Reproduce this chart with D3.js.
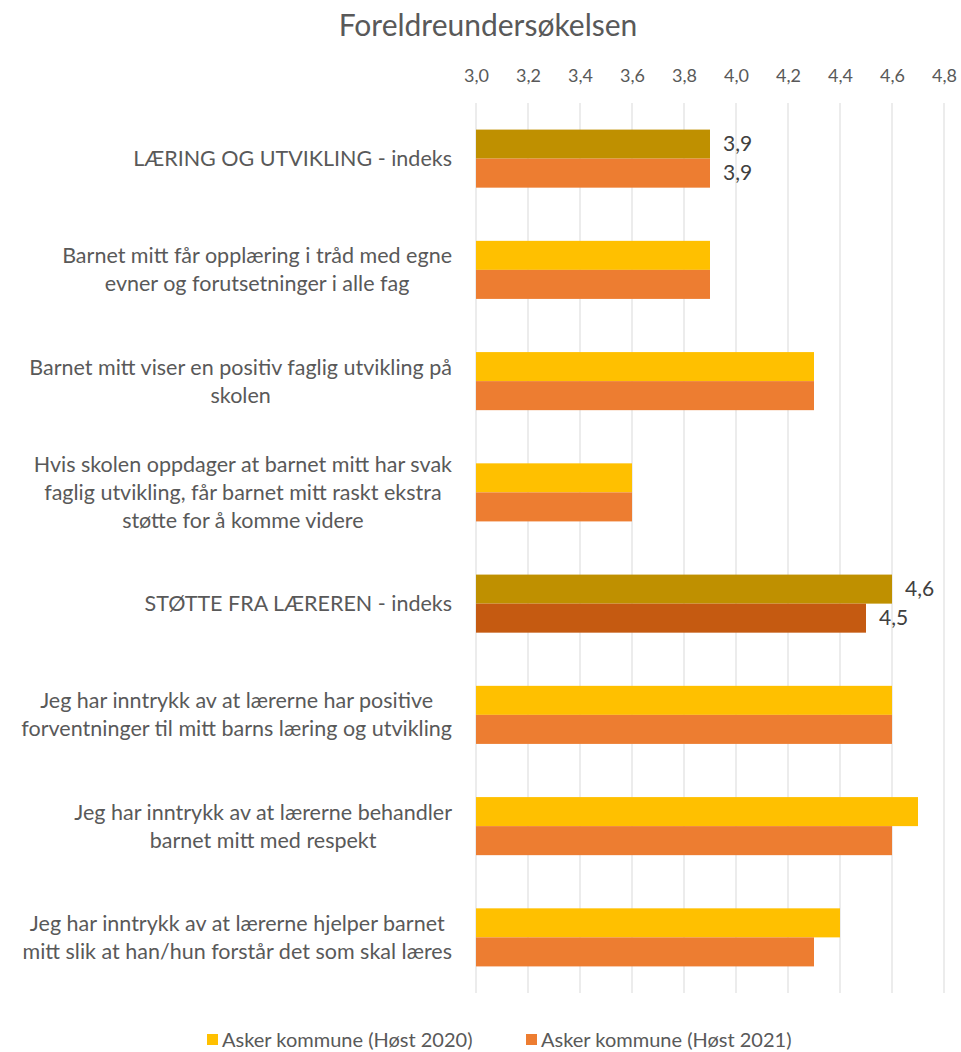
<!DOCTYPE html>
<html><head><meta charset="utf-8">
<script src="https://cdn.jsdelivr.net/npm/d3@7"></script>
<style>body{margin:0;background:#fff;} text{font-family:Lato,"Open Sans",sans-serif;}</style>
</head><body>
<svg id="chart" width="961" height="1052"></svg>
<script>
const categories = [
  ["LÆRING OG UTVIKLING - indeks"],
  ["Barnet mitt får opplæring i tråd med egne", "evner og forutsetninger i alle fag"],
  ["Barnet mitt viser en positiv faglig utvikling på", "skolen"],
  ["Hvis skolen oppdager at barnet mitt har svak", "faglig utvikling, får barnet mitt raskt ekstra", "støtte for å komme videre"],
  ["STØTTE FRA LÆREREN - indeks"],
  ["Jeg har inntrykk av at lærerne har positive", "forventninger til mitt barns læring og utvikling"],
  ["Jeg har inntrykk av at lærerne behandler", "barnet mitt med respekt"],
  ["Jeg har inntrykk av at lærerne hjelper barnet", "mitt slik at han/hun forstår det som skal læres"]
];
const seriesNames = ["Asker kommune (Høst 2020)", "Asker kommune (Høst 2021)"];
const values2020 = [3.9, 3.9, 4.3, 3.6, 4.6, 4.6, 4.7, 4.4];
const values2021 = [3.9, 3.9, 4.3, 3.6, 4.5, 4.6, 4.6, 4.3];
const indexRows = [0, 4];
const xTicks = [3.0, 3.2, 3.4, 3.6, 3.8, 4.0, 4.2, 4.4, 4.6, 4.8];
const chartTitle = "Foreldreundersøkelsen";

(function() {
const colors = ["#FFC000", "#ED7D31"];
const idxColors = [["#BF9000", "#ED7D31"], ["#BF9000", "#C55A11"]];
const txt = "#595959";

const svg = d3.select("#chart");
const pL = 476, pR = 944, pT = 103, pB = 993;
const x = d3.scaleLinear().domain([3.0, 4.8]).range([pL, pR]);
const y = d3.scaleBand().domain(d3.range(categories.length)).range([pT, pB]).paddingInner(0.478).paddingOuter(0.239);
const sub = d3.scaleBand().domain([0, 1]).range([0, y.bandwidth()]);

svg.append("text").attr("x", 488).attr("y", 25).attr("dy", "0.35em").attr("text-anchor", "middle")
  .attr("font-size", 30).attr("fill", txt).text(chartTitle);

svg.append("g").selectAll("line").data(xTicks).join("line")
  .attr("x1", d => x(d)).attr("x2", d => x(d)).attr("y1", pT).attr("y2", pB)
  .attr("stroke", "#D9D9D9").attr("stroke-width", 1);

const xAxis = d3.axisTop(x).tickValues(xTicks).tickSize(0).tickPadding(0)
  .tickFormat(d => d3.format(".1f")(d).replace(".", ","));
const ax = svg.append("g").attr("transform", `translate(0,82)`).call(xAxis);
ax.select(".domain").remove();
ax.selectAll("text").attr("font-size", 18).attr("fill", txt).attr("font-family", "Lato");

const data = categories.map((c, i) => ({i, vals: [values2020[i], values2021[i]]}));
const groups = svg.append("g").selectAll("g").data(data).join("g")
  .attr("transform", d => `translate(0,${y(d.i)})`);
groups.selectAll("rect").data(d => d.vals.map((v, s) => ({i: d.i, s, v}))).join("rect")
  .attr("x", x(3.0)).attr("y", d => sub(d.s)).attr("height", sub.bandwidth())
  .attr("width", d => x(d.v) - x(3.0))
  .attr("fill", d => {
    const k = indexRows.indexOf(d.i);
    return k >= 0 ? idxColors[k][d.s] : colors[d.s];
  });

groups.filter(d => indexRows.includes(d.i)).selectAll("text.dl")
  .data(d => d.vals.map((v, s) => ({s, v}))).join("text").attr("class", "dl")
  .attr("x", d => x(d.v) + 13).attr("y", d => sub(d.s) + sub.bandwidth() / 2)
  .attr("dy", "0.35em").attr("font-size", 21).attr("fill", "#404040")
  .text(d => d3.format(".1f")(d.v).replace(".", ","));

const lh = 28;
const labG = svg.append("g");
categories.forEach((lines, i) => {
  const cy = y(i) + y.bandwidth() / 2;
  const t = labG.append("text").attr("text-anchor", "middle").attr("font-size", 21.5).attr("fill", txt);
  lines.forEach((ln, j) => {
    t.append("tspan").attr("x", 237).attr("y", cy + (j - (lines.length - 1) / 2) * lh).attr("dy", "0.35em").text(ln);
  });
});
labG.selectAll("text").each(function() {
  const sel = d3.select(this);
  let maxW = 0;
  sel.selectAll("tspan").each(function() { maxW = Math.max(maxW, this.getComputedTextLength()); });
  sel.selectAll("tspan").attr("x", 452 - maxW / 2);
});

const leg = svg.append("g");
const legX = [207, 526];
seriesNames.forEach((n, s) => {
  leg.append("rect").attr("x", legX[s]).attr("y", 1034).attr("width", 11).attr("height", 11).attr("fill", colors[s]);
  leg.append("text").attr("x", legX[s] + 15).attr("y", 1040).attr("dy", "0.35em").attr("font-size", 20).attr("fill", txt).text(n);
});
})();
</script>
</body></html>
